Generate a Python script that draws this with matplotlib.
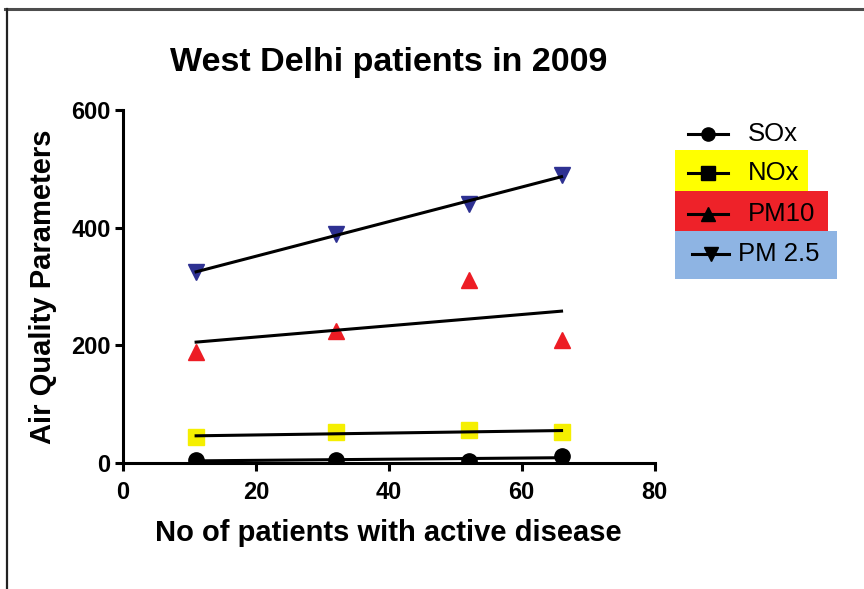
import numpy as np
import matplotlib.pyplot as plt
from matplotlib.lines import Line2D
from matplotlib.patches import Rectangle

plt.rcParams['font.family'] = ['Liberation Sans', 'DejaVu Sans']

# patients with active disease (x) and air quality readings per pollutant
patients = [11, 32, 52, 66]
sox = [5, 5, 4, 12]
nox = [44, 52, 56, 52]
pm10 = [189, 225, 311, 209]
pm25 = [325, 389, 440, 490]

series = [
    ('SOx', sox, 'o', 'black'),
    ('NOx', nox, 's', '#f5ef00'),
    ('PM10', pm10, '^', '#ed1c24'),
    ('PM 2.5', pm25, 'v', '#2e3192'),
]

fig = plt.figure(figsize=(8.64, 5.89), dpi=100)
ax = fig.add_axes([0.1424, 0.2139, 0.6152, 0.5993])

for name, vals, mk, col in series:
    ax.plot(patients, vals, linestyle='none', marker=mk, color=col, markersize=11, zorder=3)
    # linear regression line over the sampled range
    k, b = np.polyfit(patients, vals, 1)
    xs = np.array([min(patients), max(patients)])
    ax.plot(xs, k * xs + b, color='black', lw=2.2, zorder=4)

ax.set_xlim(0, 80)
ax.set_ylim(0, 600)
ax.set_xticks([0, 20, 40, 60, 80])
ax.set_yticks([0, 200, 400, 600])
for s in ['top', 'right']:
    ax.spines[s].set_visible(False)
for s in ['left', 'bottom']:
    ax.spines[s].set_linewidth(2.2)
ax.tick_params(width=2.2, length=6, labelsize=17, pad=3)
ax.tick_params(axis='x', pad=7)
for lb in ax.get_xticklabels() + ax.get_yticklabels():
    lb.set_fontweight('bold')

ax.set_title('West Delhi patients in 2009', fontsize=24.5, fontweight='bold', pad=28)
ax.set_xlabel('No of patients with active disease', fontsize=21, fontweight='bold', labelpad=11)
ax.set_ylabel('Air Quality Parameters', fontsize=21, fontweight='bold', labelpad=10)

# legend drawn as coloured boxes in figure pixels
W, H = 864, 589
def fx(px):
    return px / W
def fy(py):
    return 1 - py / H

boxes = [
    (None, None, None),
    ('#ffff00', (675, 150), (808, 191)),
    ('#ee2229', (675, 191), (828, 231)),
    ('#8eb4e3', (675, 231), (837, 279)),
]
rows = [134, 173, 214, 254]
text_x = [748, 748, 748, 738]
line_x = [(688, 728), (688, 728), (688, 728), (692, 729)]
for (name, vals, mk, col), (bcol, p0, p1), y, tx, (lx0, lx1) in zip(series, boxes, rows, text_x, line_x):
    if bcol is not None:
        fig.patches.append(Rectangle((fx(p0[0]), fy(p1[1])), fx(p1[0]) - fx(p0[0]), fy(p0[1]) - fy(p1[1]),
                                     transform=fig.transFigure, facecolor=bcol, edgecolor='none'))
    fig.lines.append(Line2D([fx(lx0), fx(lx1)], [fy(y), fy(y)], transform=fig.transFigure,
                            color='black', lw=2.2, zorder=5))
    fig.lines.append(Line2D([fx((lx0 + lx1) / 2)], [fy(y)], transform=fig.transFigure,
                            color='black', marker=mk, markersize=9.5, linestyle='none', zorder=5))
    fig.text(fx(tx), fy(y), name, fontsize=18.5, va='center', ha='left')

# frame lines along the top and left edge
fig.lines.append(Line2D([fx(5), 1], [fy(8.5), fy(8.5)], transform=fig.transFigure, color='#4d4d4d', lw=2.2))
fig.lines.append(Line2D([fx(7), fx(7)], [fy(8.5), 0], transform=fig.transFigure, color='#222222', lw=1.6))

fig.savefig('out.png', dpi=100)
